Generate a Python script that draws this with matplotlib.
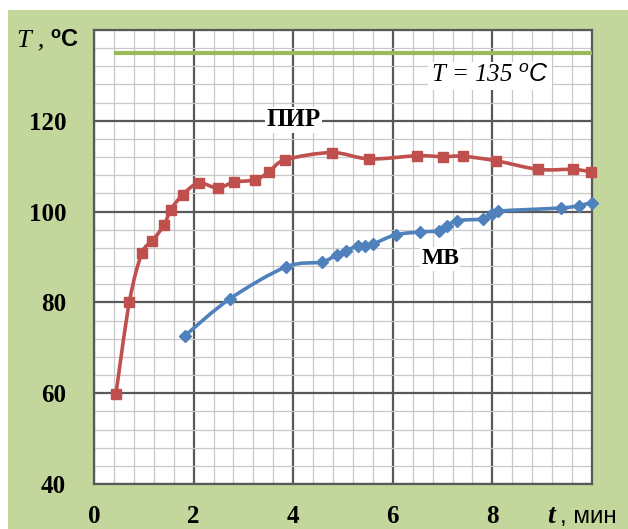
import numpy as np
import matplotlib
matplotlib.use("Agg")
import matplotlib.pyplot as plt
from matplotlib.path import Path
from matplotlib.patches import PathPatch, Rectangle

# ---- data ----
pir_t = [0.44, 0.71, 0.96, 1.17, 1.41, 1.54, 1.78, 2.10, 2.48, 2.81, 3.24, 3.52, 3.84,
         4.77, 5.53, 6.49, 7.01, 7.40, 8.07, 8.92, 9.61, 9.97]
pir_T = [59.8, 80.1, 90.8, 93.5, 97.1, 100.4, 103.7, 106.3, 105.2, 106.5, 107.0, 108.8, 111.4,
         113.0, 111.6, 112.3, 112.1, 112.2, 111.2, 109.3, 109.3, 108.8]
mv_t = [1.83, 2.73, 3.85, 4.57, 4.87, 5.06, 5.31, 5.44, 5.61, 6.06, 6.55, 6.92, 7.08, 7.29,
        7.81, 7.99, 8.12, 9.37, 9.73, 9.99]
mv_T = [72.7, 80.8, 87.8, 88.9, 90.5, 91.4, 92.5, 92.4, 92.9, 94.9, 95.5, 95.8, 96.8, 98.0,
        98.4, 99.4, 100.1, 100.8, 101.3, 102.0]
limit_t = [0.4, 10.0]
limit_T = [135, 135]
x_ticks = [0, 2, 4, 6, 8]
y_ticks = [40, 60, 80, 100, 120]

RED = "#C0504D"
BLUE = "#4F81BD"
GREEN = "#9BBB59"
BG = "#C3D69B"

W, H = 628, 529
fig = plt.figure(figsize=(W / 100, H / 100), dpi=100)
fig.patch.set_facecolor("white")
fig.patches.append(Rectangle((8 / W, 0), 1 - 8 / W, (H - 10) / H, transform=fig.transFigure,
                             facecolor=BG, edgecolor="none", zorder=-10))

ax = fig.add_axes([94 / W, (H - 484) / H, (592 - 94) / W, (484 - 30) / H])
ax.set_facecolor("white")
ax.set_xlim(0, 10)
ax.set_ylim(40, 140)
ax.set_xticks(x_ticks)
ax.set_yticks(y_ticks)
ax.set_xticks(np.arange(0, 10.01, 0.4), minor=True)
ax.set_yticks(np.arange(40, 140.01, 4), minor=True)
ax.grid(which="minor", color="#C8C8C8", linewidth=0.9, zorder=0)
ax.grid(which="major", color="#595959", linewidth=1.6, zorder=0)
ax.set_axisbelow(True)
for s in ax.spines.values():
    s.set_color("#595959")
    s.set_linewidth(1.6)
ax.tick_params(which="both", length=0)
ax.tick_params(axis="y", pad=20)
ax.tick_params(axis="x", pad=15)
for lab in ax.get_xticklabels() + ax.get_yticklabels():
    lab.set_fontfamily("Liberation Serif")
    lab.set_fontweight("bold")
    lab.set_fontsize(18)


def smooth_path(x, y):
    P = np.column_stack([x, y]).astype(float)
    n = len(P)
    verts = [P[0]]
    codes = [Path.MOVETO]
    for i in range(n - 1):
        p0 = P[i - 1] if i > 0 else P[i]
        p1 = P[i]
        p2 = P[i + 1]
        p3 = P[i + 2] if i + 2 < n else P[i + 1]
        c1 = p1 + (p2 - p0) / 6.0
        c2 = p2 - (p3 - p1) / 6.0
        verts += [c1, c2, p2]
        codes += [Path.CURVE4] * 3
    return Path(verts, codes)


ax.plot(limit_t, limit_T, color=GREEN, linewidth=3, solid_capstyle="butt", zorder=3)

ax.add_patch(PathPatch(smooth_path(pir_t, pir_T), facecolor="none", edgecolor=RED,
                       linewidth=2.6, zorder=4))
ax.plot(pir_t, pir_T, linestyle="none", marker="s", markersize=7.5, color=RED, zorder=5,
        clip_on=False)

ax.add_patch(PathPatch(smooth_path(mv_t, mv_T), facecolor="none", edgecolor=BLUE,
                       linewidth=2.6, zorder=4))
ax.plot(mv_t, mv_T, linestyle="none", marker="D", markersize=6.5, color=BLUE, zorder=5,
        clip_on=False)

ax.text(4.0, 120.2, "ПИР", fontfamily="Liberation Serif", fontweight="bold", fontsize=18,
        ha="center", va="center", zorder=6,
        bbox=dict(facecolor="white", edgecolor="none", pad=1))
ax.text(6.95, 89.6, "МВ", fontfamily="Liberation Serif", fontweight="bold", fontsize=17,
        ha="center", va="center", zorder=6,
        bbox=dict(facecolor="white", edgecolor="none", pad=1))

plt.rcParams["mathtext.fontset"] = "custom"
plt.rcParams["mathtext.sf"] = "Liberation Sans:italic"
plt.rcParams["mathtext.bf"] = "Liberation Sans:bold"
plt.rcParams["mathtext.it"] = "Liberation Serif:italic"
plt.rcParams["mathtext.rm"] = "Liberation Serif"

ax.text(7.95, 129.8, r"T = 135 $^{\mathsf{o}}\mathsf{C}$", fontfamily="Liberation Serif",
        fontstyle="italic", fontsize=18, ha="center", va="center", zorder=6,
        bbox=dict(facecolor="white", edgecolor="none", pad=2))

# axis titles
fig.text(17 / W, 1 - 46 / H, r"T , ", fontfamily="Liberation Serif", fontstyle="italic",
         fontsize=19, ha="left", va="baseline")
fig.text(50 / W, 1 - 46 / H, r"$^{\mathbf{o}}\mathbf{C}$", fontsize=17,
         ha="left", va="baseline")

fig.text(547 / W, 1 - 523 / H, "t", fontfamily="Liberation Serif", fontstyle="italic",
         fontweight="bold", fontsize=20, ha="left", va="baseline")
fig.text(560 / W, 1 - 523 / H, ", мин", fontfamily="Liberation Sans", fontsize=17.5,
         ha="left", va="baseline")

fig.savefig("out.png", dpi=100, facecolor=fig.get_facecolor())
